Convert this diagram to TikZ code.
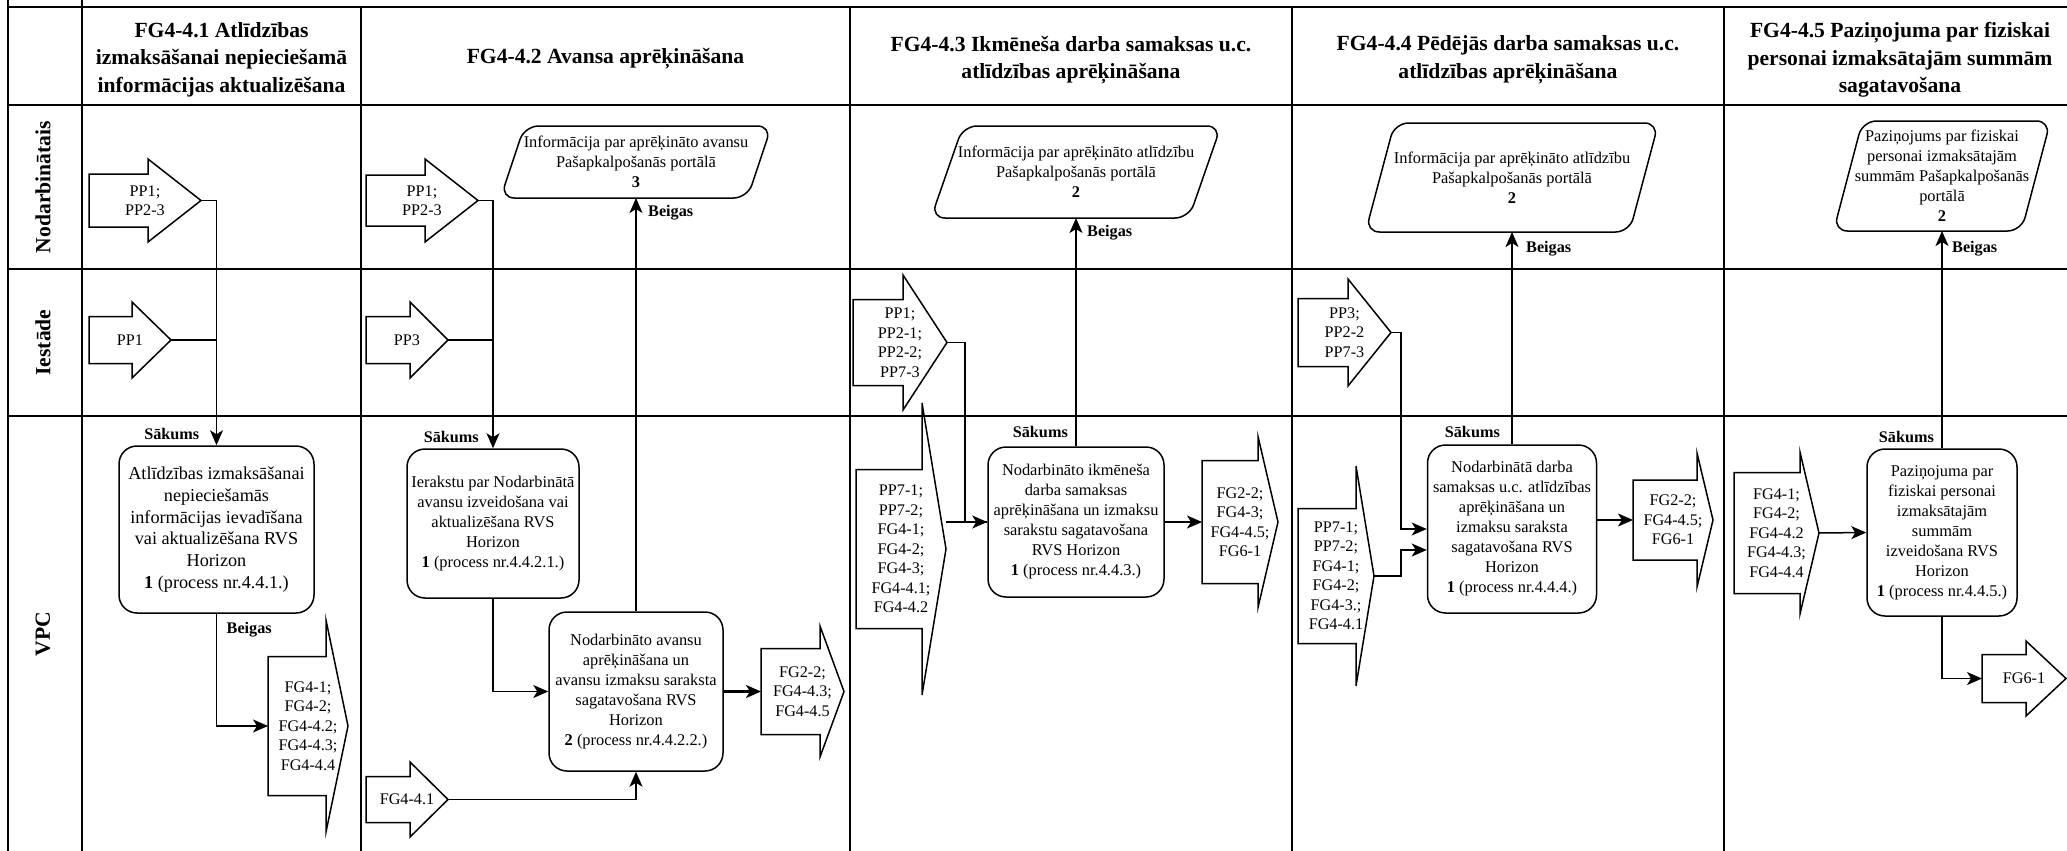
\documentclass[tikz,border=0pt]{standalone}
\usepackage{fontspec}
\setmainfont{Liberation Serif}
\usepackage{tikz}
\usetikzlibrary{arrows.meta, positioning}
\tikzstyle{grid} = [line width=1.6pt]
\tikzstyle{outline} = [draw=black, line width=1.5pt]
\tikzstyle{process} = [rectangle, rounded corners=18pt, draw=black, fill=white, line width=1.5pt, align=center, inner sep=2pt, font=\fontsize{16.4}{20}\selectfont]
\tikzstyle{io} = [rectangle, inner sep=0pt, outer sep=0pt, align=center, font=\fontsize{16.4}{20}\selectfont]
\tikzstyle{offpage} = [rectangle, inner sep=0pt, outer sep=0pt, align=center, font=\fontsize{16.2}{19.5}\selectfont]
\tikzstyle{header} = [align=center, font=\fontsize{21.6}{27.5}\selectfont\bfseries]
\tikzstyle{lane} = [rotate=90, font=\fontsize{21.6}{26}\selectfont\bfseries]
\tikzstyle{lbl} = [inner sep=1pt, font=\fontsize{16.2}{19}\selectfont\bfseries]
\tikzstyle{arrow} = [line width=1.5pt, -{Stealth[length=15pt, width=13pt, inset=4pt]}]
\tikzstyle{line} = [line width=1.5pt]

% off-page arrow round a node: node, head length, half shaft width
\newcommand{\blockarrow}[3]{%
  \draw [outline] ([yshift=#3]#1.west) -- ([xshift=-#2, yshift=#3]#1.east) -- ([xshift=-#2]#1.north east) -- (#1.east)
    -- ([xshift=-#2]#1.south east) -- ([xshift=-#2, yshift=-#3]#1.east) -- ([yshift=-#3]#1.west) -- cycle;}
% data parallelogram round a node: node, slant offset
\newcommand{\ioshape}[2]{%
  \draw [outline, rounded corners=14pt] (#1.south west) -- ([xshift=#2]#1.north west) -- (#1.north east)
    -- ([xshift=-#2]#1.south east) -- cycle;}

\begin{document}
\begin{tikzpicture}[x=1pt, y=-1pt]
\useasboundingbox (0,0) rectangle (2067,851);
% LANES
\draw [grid] (8,0) -- (8,851);
\draw [grid] (82,0) -- (82,851);
\draw [grid] (361,7) -- (361,851);
\draw [grid] (850,7) -- (850,851);
\draw [grid] (1292,7) -- (1292,851);
\draw [grid] (1724,7) -- (1724,851);
\draw [grid] (8,7) -- (2067,7);
\draw [grid] (8,105) -- (2067,105);
\draw [grid] (8,269) -- (2067,269);
\draw [grid] (8,416) -- (2067,416);

\node (h1) [header] at (221.5,59.5) {FG4-4.1 Atlīdzības\\izmaksāšanai nepieciešamā\\informācijas aktualizēšana};
\node (h2) [header] at (605.5,59) {FG4-4.2 Avansa aprēķināšana};
\node (h3) [header] at (1071,60) {FG4-4.3 Ikmēneša darba samaksas u.c.\\atlīdzības aprēķināšana};
\node (h4) [header] at (1508,60) {FG4-4.4 Pēdējās darba samaksas u.c.\\atlīdzības aprēķināšana};
\node (h5) [header] at (1900,60) {FG4-4.5 Paziņojuma par fiziskai\\personai izmaksātajām summām\\sagatavošana};

\node (nod) [lane] at (43,187) {Nodarbinātais};
\node (ies) [lane] at (43,342.5) {Iestāde};
\node (vpc) [lane] at (43,634) {VPC};

% NODES
% FG4-4.1
\node (A1) [offpage, minimum width=112, minimum height=83] at (145,200.5) {PP1;\\PP2-3};
\blockarrow{A1}{53}{26.5}
\node (B1) [offpage, minimum width=82, minimum height=76] at (130,340) {PP1};
\blockarrow{B1}{39}{23.5}
\node (P1) [process, minimum width=195, minimum height=167, font=\fontsize{18.2}{21.7}\selectfont] at (216.5,529.5) {Atlīdzības izmaksāšanai\\nepieciešamās\\informācijas ievadīšana\\vai aktualizēšana RVS\\Horizon\\\textbf{1} (process nr.4.4.1.)};
\node (C1) [offpage, minimum width=80, minimum height=212] at (308,726) {FG4-1;\\FG4-2;\\FG4-4.2;\\FG4-4.3;\\FG4-4.4};
\blockarrow{C1}{22}{69.5}
\node (s1) [lbl, above left=4pt and 16pt of P1.north] {Sākums};
\node (e1) [lbl, below right=7pt and 9pt of P1.south] {Beigas};

% FG4-4.2
\node (A2) [offpage, minimum width=112, minimum height=83] at (422,200.5) {PP1;\\PP2-3};
\blockarrow{A2}{53}{25.5}
\node (B2) [offpage, minimum width=82, minimum height=76] at (407,340) {PP3};
\blockarrow{B2}{38}{23.5}
\node (D2) [io, minimum width=271, minimum height=72] at (636,162) {Informācija par aprēķināto avansu\\Pašapkalpošanās portālā\\\textbf{3}};
\ioshape{D2}{24}
\node (P2a) [process, minimum width=172, minimum height=149] at (493,523.5) {Ierakstu par Nodarbinātā\\avansu izveidošana vai\\aktualizēšana RVS\\Horizon\\\textbf{1} (process nr.4.4.2.1.)};
\node (P2b) [process, minimum width=174, minimum height=159] at (636,691.5) {Nodarbināto avansu\\aprēķināšana un\\avansu izmaksu saraksta\\sagatavošana RVS\\Horizon\\\textbf{2} (process nr.4.4.2.2.)};
\node (C2) [offpage, minimum width=83, minimum height=131] at (802.5,691.5) {FG2-2;\\FG4-4.3;\\FG4-4.5};
\blockarrow{C2}{24}{43}
\node (E2) [offpage, minimum width=82, minimum height=75] at (407,799.5) {FG4-4.1};
\blockarrow{E2}{38}{23}
\node (s2) [lbl, above left=4pt and 13pt of P2a.north] {Sākums};
\node (e2) [lbl, below right=6pt and 11pt of D2.south] {Beigas};

% FG4-4.3
\node (D3) [io, minimum width=290, minimum height=92] at (1076,172) {Informācija par aprēķināto atlīdzību\\Pašapkalpošanās portālā\\\textbf{2}};
\ioshape{D3}{32}
\node (A3) [offpage, minimum width=94, minimum height=135] at (900,342.5) {PP1;\\PP2-1;\\PP2-2;\\PP7-3};
\blockarrow{A3}{44}{43}
\node (F3) [offpage, minimum width=90, minimum height=292] at (901,549) {PP7-1;\\PP7-2;\\FG4-1;\\FG4-2;\\FG4-3;\\FG4-4.1;\\FG4-4.2};
\blockarrow{F3}{24}{79.5}
\node (P3) [process, minimum width=176, minimum height=150] at (1076,522) {Nodarbināto ikmēneša\\darba samaksas\\aprēķināšana un izmaksu\\sarakstu sagatavošana\\RVS Horizon\\\textbf{1} (process nr.4.4.3.)};
\node (C3) [offpage, minimum width=76, minimum height=171] at (1240,522) {FG2-2;\\FG4-3;\\FG4-4.5;\\FG6-1};
\blockarrow{C3}{20}{61.5}
\node (s3) [lbl, above left=7pt and 7pt of P3.north] {Sākums};
\node (e3) [lbl, below right=6pt and 10pt of D3.south] {Beigas};

% FG4-4.4
\node (D4) [io, minimum width=293, minimum height=109] at (1512,177.5) {Informācija par aprēķināto atlīdzību\\Pašapkalpošanās portālā\\\textbf{2}};
\ioshape{D4}{29}
\node (A4) [offpage, minimum width=93, minimum height=107] at (1344.5,332.5) {PP3;\\PP2-2\\PP7-3};
\blockarrow{A4}{43}{34}
\node (F4) [offpage, minimum width=76, minimum height=220] at (1336,576) {PP7-1;\\PP7-2;\\FG4-1;\\FG4-2;\\FG4-3.;\\FG4-4.1};
\blockarrow{F4}{18}{67.5}
\node (P4) [process, minimum width=169, minimum height=168] at (1512,529) {Nodarbinātā darba\\samaksas u.c. atlīdzības\\aprēķināšana un\\izmaksu saraksta\\sagatavošana RVS\\Horizon\\\textbf{1} (process nr.4.4.4.)};
\node (C4) [offpage, minimum width=80, minimum height=134] at (1673,520) {FG2-2;\\FG4-4.5;\\FG6-1};
\blockarrow{C4}{16}{40}
\node (s4) [lbl, above left=5pt and 11pt of P4.north] {Sākums};
\node (e4) [lbl, below right=8pt and 13pt of D4.south] {Beigas};

% FG4-4.5
\node (D5) [io, minimum width=217, minimum height=110] at (1942,176) {Paziņojums par fiziskai\\personai izmaksātajām\\summām Pašapkalpošanās\\portālā\\\textbf{2}};
\ioshape{D5}{29}
\node (F5) [offpage, minimum width=85, minimum height=162] at (1776.5,533) {FG4-1;\\FG4-2;\\FG4-4.2\\FG4-4.3;\\FG4-4.4};
\blockarrow{F5}{19}{60.5}
\node (P5) [process, minimum width=150, minimum height=167] at (1942,532.5) {Paziņojuma par\\fiziskai personai\\izmaksātajām\\summām\\izveidošana RVS\\Horizon\\\textbf{1} (process nr.4.4.5.)};
\node (G5) [offpage, minimum width=84, minimum height=75] at (2024,678.5) {FG6-1};
\blockarrow{G5}{40}{24}
\node (s5) [lbl, above left=4pt and 7pt of P5.north] {Sākums};
\node (e5) [lbl, below right=9pt and 9pt of D5.south] {Beigas};

% ARROWS
\draw [arrow] (A1.east) -| (P1.north);
\draw [line] (B1.east) -- (B1.east -| P1.north);
\draw [arrow] (P1.south) |- (C1.west);

\draw [arrow] (A2.east) -| (P2a.north);
\draw [line] (B2.east) -- (B2.east -| P2a.north);
\draw [arrow] (P2a.south) |- (P2b.west);
\draw [arrow, line width=2.5pt] (P2b.east) -- (C2.west);
\draw [arrow] (E2.east) -| (P2b.south);
\draw [arrow] (P2b.north) -- (D2.south);

\draw [arrow] (A3.east) -- ++(18,0) |- (P3.west);
\draw [line] (F3.east |- P3.west) -- (P3.west);
\draw [arrow] (P3.east) -- (C3.west);
\draw [arrow] (P3.north) -- (D3.south);

\draw [arrow] (A4.east) -- ++(10,0) |- (P4.west);
\draw [arrow] (F4.east) -- ++(27,0) |- ([yshift=-21pt]P4.west);
\draw [arrow] (P4.east |- C4.west) -- (C4.west);
\draw [arrow] (P4.north) -- (D4.south);

\draw [arrow] (F5.east) -- (P5.west);
\draw [arrow] (P5.north) -- (D5.south);
\draw [arrow] (P5.south) |- (G5.west);
\end{tikzpicture}
\end{document}
